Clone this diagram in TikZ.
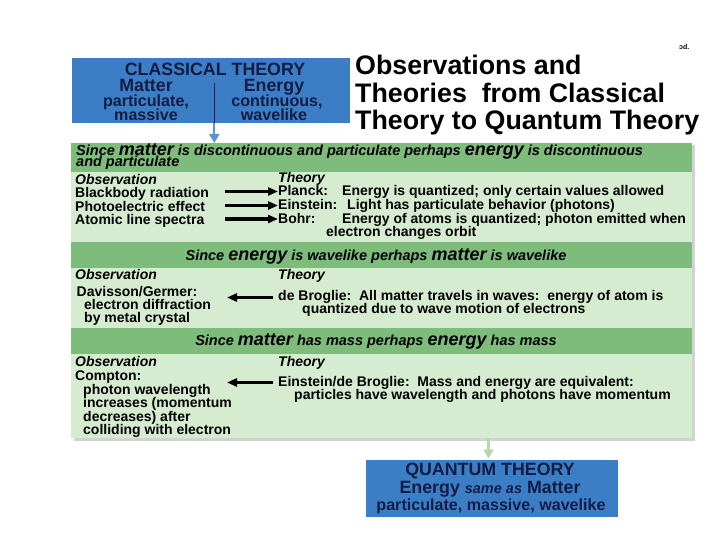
\documentclass[tikz,border=0pt]{standalone}
\usepackage{fontspec}
\setmainfont{Liberation Sans}
\usetikzlibrary{arrows.meta}
\definecolor{bluebox}{RGB}{60,126,198}
\definecolor{navy}{RGB}{18,28,68}
\definecolor{bandgreen}{RGB}{126,188,124}
\definecolor{lightgreen}{RGB}{214,236,208}
\definecolor{arrowblue}{RGB}{88,148,212}
\definecolor{arrowgreen}{RGB}{178,216,176}
\definecolor{shadowgrey}{RGB}{210,210,210}
\newcommand\bodyf{\fontsize{14}{14}\selectfont\bfseries}
\newcommand\hdrf{\fontsize{14.5}{11}\selectfont\lineskiplimit=-30pt\bfseries\itshape}
\newcommand\hbig[1]{{\fontsize{18}{18}\selectfont #1}}
\begin{document}
\begin{tikzpicture}[x=1pt,y=-1pt,
  txt/.style={anchor=base west, inner sep=0pt, font=\bodyf, text=black},
  itx/.style={anchor=base west, inner sep=0pt, font=\fontsize{14}{14}\selectfont\bfseries\itshape, text=black},
  hdr/.style={inner sep=0pt, font=\hdrf, text=black},
  cltxt/.style={anchor=base, inner sep=0pt, text=navy, font=\fontsize{17.8}{17.8}\selectfont\bfseries},
  clsmall/.style={anchor=base, inner sep=0pt, text=navy, font=\fontsize{16.1}{16.1}\selectfont\bfseries},
  ttl/.style={anchor=base west, inner sep=0pt, font=\fontsize{26.8}{26.8}\selectfont\bfseries},
  band/.style={fill=bandgreen, inner sep=0pt, anchor=north west, minimum width=621pt},
  bigarrow/.style={line width=3.2pt, -{Triangle[length=10pt,width=8pt]}},
  bluearrow/.style={draw=arrowblue, line width=2.2pt, -{Triangle[length=9pt,width=10pt]}},
  greenarrow/.style={draw=arrowgreen, line width=2.2pt, -{Triangle[length=9pt,width=10pt]}}
]
\useasboundingbox (0,0) rectangle (720,540);

% ---------- classical box ----------
\node[fill=bluebox, inner sep=0pt, anchor=north west, minimum width=278.3pt, minimum height=64.7pt] (cl) at (71.7,58.3) {};
\node[cltxt] (clt) at (215,76) {CLASSICAL THEORY};
\node[cltxt] (mat) at (146,91.2) {Matter};
\node[clsmall] (mat2) at (146,106.5) {particulate,};
\node[clsmall] (mat3) at (146,121) {massive};
\node[cltxt] (ene) at (274,91.2) {Energy};
\node[clsmall] (ene2) at (277,106.5) {continuous,};
\node[clsmall] (ene3) at (274,121) {wavelike};
\coordinate (septop) at (214.3,83);
\coordinate (sepbot) at (214.3,123);
\draw[navy, line width=1.6pt] (septop) -- (sepbot);

% ---------- title ----------
\node[ttl] (t1) at (355,75) {Observations and};
\node[ttl] (t2) at (355,103) {Theories\ \ from Classical};
\node[ttl] (t3) at (355,130) {Theory to Quantum Theory};
\node[anchor=base west, inner sep=0pt, font=\fontsize{7}{7}\selectfont\bfseries] (ed) at (679,50) {ɔd.};

% ---------- green panel ----------
\fill[shadowgrey] (73.5,145.5) rectangle (695,441);
\node[fill=lightgreen, inner sep=0pt, anchor=north west, minimum width=621pt, minimum height=295pt] (panel) at (71,143) {};
\node[band, minimum height=28.5pt] (b1) at (71,143) {};
\node[band, minimum height=26pt] (b2) at (71,242) {};
\node[band, minimum height=26pt] (b3) at (71,328) {};

\draw[bluearrow] (sepbot) -- (sepbot |- panel.north);

% headers
\node[hdr, anchor=base west, align=left] (h1) at (76,167) {Since \hbig{matter} is discontinuous and particulate perhaps \hbig{energy} is discontinuous\\and particulate};
\node[hdr, anchor=base] (h2) at (376,260) {Since \hbig{energy} is wavelike perhaps \hbig{matter} is wavelike};
\node[hdr, anchor=base] (h3) at (376,345) {Since \hbig{matter} has mass perhaps \hbig{energy} has mass};

% row 1
\node[itx] (o1) at (75,185) {Observation};
\node[itx] (th1) at (278,183) {Theory};
\node[txt] (bb) at (75,197.7) {Blackbody radiation};
\node[txt] (pe) at (75,211.5) {Photoelectric effect};
\node[txt] (al) at (75,225) {Atomic line spectra};
\node[txt] (planck) at (278,195.5) {Planck:};
\node[txt] (planckt) at (342,195.5) {Energy is quantized; only certain values allowed};
\node[txt] (einst) at (278,209.5) {Einstein:};
\node[txt] (einstt) at (347,209.5) {Light has particulate behavior (photons)};
\node[txt] (bohr) at (278,223) {Bohr:};
\node[txt] (bohrt) at (342,223) {Energy of atoms is quantized; photon emitted when};
\node[txt] (bohrt2) at (326,236.5) {electron changes orbit};
\coordinate (a1) at (225,191.5);
\coordinate (a2) at (225,205.5);
\coordinate (a3) at (225,219);
\draw[bigarrow] (a1) -- (a1 -| planck.west);
\draw[bigarrow] (a2) -- (a2 -| einst.west);
\draw[bigarrow] (a3) -- (a3 -| bohr.west);

% row 2
\node[itx] (o2) at (75,279) {Observation};
\node[itx] (th2) at (278,279) {Theory};
\node[txt] (dg) at (76.5,296.5) {Davisson/Germer:};
\node[txt] (dg2) at (84,309.5) {electron diffraction};
\node[txt] (dg3) at (84,322.5) {by metal crystal};
\node[txt] (db) at (278,300) {de Broglie:\ \ All matter travels in waves:\ \ energy of atom is};
\node[txt] (db2) at (302,313.5) {quantized due to wave motion of electrons};
\coordinate (a4) at (227,297.5);
\draw[bigarrow] ([xshift=-5pt]db.west |- a4) -- (a4);

% row 3
\node[itx] (o3) at (75,366) {Observation};
\node[itx] (th3) at (278,366) {Theory};
\node[txt] (co) at (75,380) {Compton:};
\node[txt] (co2) at (83,394) {photon wavelength};
\node[txt] (co3) at (83,407.5) {increases (momentum};
\node[txt] (co4) at (83,421) {decreases) after};
\node[txt] (co5) at (83,434.5) {colliding with electron};
\node[txt] (edb) at (278,386) {Einstein/de Broglie:\ \ Mass and energy are equivalent:};
\node[txt] (edb2) at (294,399) {particles have wavelength and photons have momentum};
\coordinate (a5) at (227,382.5);
\draw[bigarrow] ([xshift=-5pt]edb.west |- a5) -- (a5);

% ---------- quantum box ----------
\node[fill=bluebox, inner sep=0pt, anchor=north west, minimum width=252pt, minimum height=57pt] (qt) at (365.5,460) {};
\draw[greenarrow] (panel.south -| 488.5,0) -- (488.5,458.5);
\node[cltxt] (q1) at (490,475.7) {QUANTUM THEORY};
\node[cltxt] (q2) at (490,493.3) {Energy {\fontsize{14.5}{14.5}\selectfont\itshape same as} Matter};
\node[clsmall] (q3) at (491,510) {particulate, massive, wavelike};
\end{tikzpicture}
\end{document}
